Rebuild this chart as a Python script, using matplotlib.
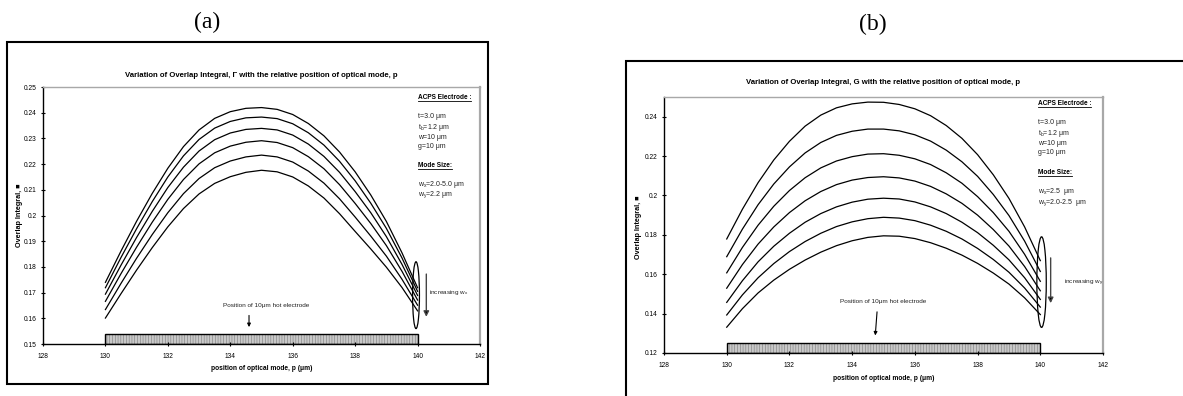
import matplotlib.pyplot as plt
from matplotlib.patches import Ellipse, Rectangle

# position of optical mode, p (um)
p_um = [130, 130.5, 131, 131.5, 132, 132.5, 133, 133.5, 134, 134.5, 135,
        135.5, 136, 136.5, 137, 137.5, 138, 138.5, 139, 139.5, 140]

# (a) overlap integral, wx = 2.0 ... 5.0 um (top to bottom)
a_curve1 = [.1740, .1862, .1978, .2086, .2184, .2268, .2333, .2378, .2404, .2417, .2420,
            .2413, .2393, .2358, .2310, .2247, .2170, .2080, .1977, .1855, .1719]
a_curve2 = [.1719, .1837, .1949, .2054, .2150, .2232, .2296, .2340, .2366, .2380, .2383,
            .2377, .2357, .2322, .2274, .2211, .2135, .2048, .1950, .1835, .1705]
a_curve3 = [.1694, .1807, .1915, .2016, .2109, .2188, .2251, .2295, .2321, .2335, .2339,
            .2333, .2313, .2278, .2230, .2168, .2093, .2011, .1918, .1810, .1689]
a_curve4 = [.1666, .1774, .1877, .1974, .2063, .2140, .2201, .2244, .2270, .2285, .2291,
            .2284, .2264, .2229, .2182, .2120, .2047, .1969, .1883, .1783, .1671]
a_curve5 = [.1634, .1736, .1834, .1926, .2011, .2085, .2144, .2186, .2212, .2228, .2235,
            .2228, .2208, .2173, .2126, .2065, .1994, .1920, .1842, .1752, .1651]
a_curve6 = [.1601, .1696, .1788, .1875, .1956, .2027, .2084, .2125, .2151, .2168, .2176,
            .2170, .2150, .2115, .2068, .2007, .1938, .1870, .1799, .1720, .1629]

# (b) overlap integral, wy = 2.0 ... 2.5 um (top to bottom)
b_curve1 = [.1779, .1930, .2065, .2180, .2275, .2352, .2408, .2445, .2465, .2474, .2473,
            .2462, .2440, .2405, .2355, .2290, .2207, .2105, .1985, .1840, .1669]
b_curve2 = [.1689, .1829, .1953, .2058, .2145, .2216, .2269, .2305, .2326, .2337, .2337,
            .2328, .2308, .2276, .2230, .2171, .2097, .2005, .1898, .1768, .1614]
b_curve3 = [.1607, .1736, .1849, .1945, .2025, .2090, .2140, .2175, .2197, .2210, .2212,
            .2204, .2186, .2157, .2115, .2062, .1994, .1913, .1818, .1701, .1564]
b_curve4 = [.1529, .1649, .1753, .1840, .1913, .1973, .2020, .2055, .2078, .2091, .2095,
            .2089, .2073, .2046, .2008, .1960, .1900, .1827, .1743, .1639, .1516]
b_curve5 = [.1457, .1567, .1663, .1742, .1808, .1864, .1908, .1942, .1966, .1981, .1986,
            .1982, .1967, .1942, .1908, .1864, .1811, .1747, .1673, .1582, .1472]
b_curve6 = [.1393, .1495, .1582, .1654, .1715, .1766, .1808, .1842, .1866, .1882, .1889,
            .1885, .1872, .1849, .1818, .1779, .1731, .1675, .1610, .1530, .1433]
b_curve7 = [.1331, .1425, .1505, .1570, .1625, .1672, .1712, .1745, .1770, .1787, .1795,
            .1793, .1781, .1760, .1732, .1697, .1655, .1606, .1550, .1480, .1395]

x_ticks = [128, 130, 132, 134, 136, 138, 140, 142]
a_yticks = [0.15, 0.16, 0.17, 0.18, 0.19, 0.20, 0.21, 0.22, 0.23, 0.24, 0.25]
a_ylabels = ["0.15", "0.16", "0.17", "0.18", "0.19", "0.2", "0.21", "0.22", "0.23", "0.24", "0.25"]
b_yticks = [0.12, 0.14, 0.16, 0.18, 0.20, 0.22, 0.24]
b_ylabels = ["0.12", "0.14", "0.16", "0.18", "0.2", "0.22", "0.24"]

a_params = ["t=3.0 μm", "t$_\\mathregular{b}$=1.2 μm", "w=10 μm", "g=10 μm"]
a_mode = ["w$_\\mathregular{x}$=2.0-5.0 μm", "w$_\\mathregular{y}$=2.2 μm"]
b_params = ["t=3.0 μm", "t$_\\mathregular{b}$=1.2 μm", "w=10 μm", "g=10 μm"]
b_mode = ["w$_\\mathregular{x}$=2.5  μm", "w$_\\mathregular{y}$=2.0-2.5  μm"]

plt.rcParams['font.family'] = ['Liberation Sans', 'DejaVu Sans']
plt.rcParams['mathtext.fontset'] = 'custom'
plt.rcParams['mathtext.rm'] = 'Liberation Sans'
plt.rcParams['mathtext.bf'] = 'Liberation Sans:bold'
plt.rcParams['hatch.linewidth'] = 0.4

fig = plt.figure(figsize=(11.83, 3.96), dpi=100)

# outer frames
fig.add_artist(Rectangle((0.0059, 0.0303), 0.4066, 0.8636, transform=fig.transFigure,
                         fill=False, lw=1.5, ec="black"))
fig.add_artist(Rectangle((0.5292, -0.05), 0.6, 0.896, transform=fig.transFigure,
                         fill=False, lw=1.5, ec="black"))
fig.text(0.175, 0.944, "(a)", family="Liberation Serif", fontsize=17, ha="center", va="center")
fig.text(0.738, 0.937, "(b)", family="Liberation Serif", fontsize=17, ha="center", va="center")

headings = []  # (axes, text artist) pairs that get an underline later


def setup_axes(ax, ylim, yticks, ylabels, title, title_y, ylab_x, ylab_y, xlab_y):
    ax.set_xlim(128, 142)
    ax.set_ylim(*ylim)
    ax.set_xticks(x_ticks)
    ax.set_xticklabels([str(t) for t in x_ticks])
    ax.set_yticks(yticks)
    ax.set_yticklabels(ylabels)
    ax.tick_params(direction="inout", length=3, width=0.8, labelsize=4.8, pad=3)
    ax.tick_params(axis="x", pad=5)
    for s in ["top", "right"]:
        ax.spines[s].set_color("#a8a8a8")
    ax.spines["top"].set_linewidth(1.0)
    ax.spines["right"].set_linewidth(1.6)
    ax.spines["left"].set_linewidth(1.0)
    ax.spines["bottom"].set_linewidth(1.0)
    ax.text(0.5, title_y, title, transform=ax.transAxes, ha="center", va="center",
            fontsize=5.6, fontweight="bold")
    ax.text(ylab_x, ylab_y, "Overlap Integral, ■", transform=ax.transAxes, rotation=90,
            ha="center", va="center", fontsize=5.2, fontweight="bold")
    ax.text(0.5, xlab_y, "position of optical mode, p (μm)", transform=ax.transAxes,
            ha="center", va="center", fontsize=4.8, fontweight="bold")


def electrode_bar(ax, y0, h):
    ax.add_patch(Rectangle((130, y0), 10, h, fc="#c8c8c8", ec="#7a7a7a", hatch="||||||", lw=0))
    ax.add_patch(Rectangle((130, y0), 10, h, fill=False, ec="black", lw=1.0))


def side_notes(ax, x, y_head1, y_params, y_head2, y_mode, params, mode):
    t = ax.text(x, y_head1, "ACPS Electrode :", fontsize=4.7, fontweight="bold", va="center")
    headings.append((ax, t))
    for y, s in zip(y_params, params):
        ax.text(x, y, s, fontsize=5.0, va="center", color="#222222")
    t = ax.text(x, y_head2, "Mode Size:", fontsize=4.7, fontweight="bold", va="center")
    headings.append((ax, t))
    for y, s in zip(y_mode, mode):
        ax.text(x, y, s, fontsize=5.0, va="center", color="#222222")


# ---- panel (a)
ax1 = fig.add_axes([0.03635, 0.1313, 0.3694, 0.6490])
for c in [a_curve1, a_curve2, a_curve3, a_curve4, a_curve5, a_curve6]:
    ax1.plot(p_um, c, color="black", lw=0.9)
setup_axes(ax1, (0.15, 0.25), a_yticks, a_ylabels,
           "Variation of Overlap Integral, Γ with the relative position of optical mode, p",
           1.043, -0.053, 0.50, -0.097)
electrode_bar(ax1, 0.15, 0.0037)
ax1.add_patch(Ellipse((139.95, 0.169), 0.22, 0.026, fill=False, lw=0.9))
ax1.annotate("", xy=(140.28, 0.1595), xytext=(140.28, 0.1783),
             arrowprops=dict(arrowstyle="-|>", color="#444444", fc="black", lw=1.0,
                             mutation_scale=8))
ax1.text(140.38, 0.1702, "increasing w$_\\mathregular{x}$", fontsize=4.6, va="center",
         color="#222222")
ax1.text(135.15, 0.1649, "Position of 10μm hot electrode", fontsize=4.6, ha="center",
         va="center", color="#222222")
ax1.annotate("", xy=(134.6, 0.1555), xytext=(134.6, 0.1622),
             arrowprops=dict(arrowstyle="-|>", color="black", lw=0.8, mutation_scale=5))
side_notes(ax1, 140.0, 0.2461, [0.2387, 0.2344, 0.2305, 0.2270], 0.2193,
           [0.2119, 0.2080], a_params, a_mode)

# ---- panel (b)
ax2 = fig.add_axes([0.5613, 0.1086, 0.3711, 0.6465])
for c in [b_curve1, b_curve2, b_curve3, b_curve4, b_curve5, b_curve6, b_curve7]:
    ax2.plot(p_um, c, color="black", lw=0.9)
setup_axes(ax2, (0.12, 0.25), b_yticks, b_ylabels,
           "Variation of Overlap Integral, G with the relative position of optical mode, p",
           1.055, -0.057, 0.49, -0.098)
electrode_bar(ax2, 0.12, 0.0049)
ax2.add_patch(Ellipse((140.04, 0.156), 0.3, 0.046, fill=False, lw=0.9))
ax2.annotate("", xy=(140.33, 0.1439), xytext=(140.33, 0.1697),
             arrowprops=dict(arrowstyle="-|>", color="#444444", fc="black", lw=1.0,
                             mutation_scale=8))
ax2.text(140.76, 0.1557, "increasing w$_\\mathregular{y}$", fontsize=4.6, va="center",
         color="#222222")
ax2.text(135.0, 0.146, "Position of 10μm hot electrode", fontsize=4.6, ha="center",
         va="center", color="#222222")
ax2.annotate("", xy=(134.73, 0.1275), xytext=(134.8, 0.1423),
             arrowprops=dict(arrowstyle="-|>", color="black", lw=0.8, mutation_scale=5))
side_notes(ax2, 139.92, 0.2468, [0.2369, 0.2315, 0.2264, 0.2217], 0.2115,
           [0.2019, 0.1965], b_params, b_mode)

# underline the bold headings, measured from the rendered text
fig.canvas.draw()
renderer = fig.canvas.get_renderer()
for ax, t in headings:
    bb = t.get_window_extent(renderer).transformed(ax.transData.inverted())
    ax.plot([bb.x0, bb.x1], [bb.y0, bb.y0], color="black", lw=0.6, clip_on=False)

fig.savefig("out.png", dpi=100)
